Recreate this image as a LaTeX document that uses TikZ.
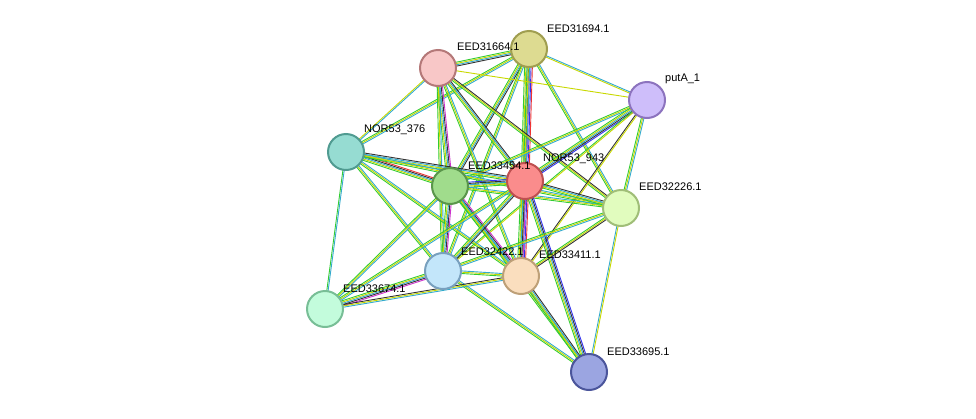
\documentclass[tikz,border=0pt]{standalone}
\usepackage{fontspec}
\setmainfont{Liberation Sans}
\usetikzlibrary{calc}
\definecolor{kg}{HTML}{33CC33}
\definecolor{ky}{HTML}{C8D800}
\definecolor{kc}{HTML}{33AACC}
\definecolor{kd}{HTML}{333333}
\definecolor{km}{HTML}{CC33CC}
\definecolor{kb}{HTML}{3333EE}
\definecolor{kr}{HTML}{EE3333}
\newcommand\lnk[3]{\foreach \c [count=\i] in {#3}{%
  \pgfmathsetmacro\o{(\i-1)*1.3-0.65*(\n-1)}%
  \draw[draw=\c,line width=0.9pt] ($(#1)!\o pt!90:(#2)$) -- ($(#2)!\o pt!-90:(#1)$);}}
\newcommand\E[3]{\pgfmathsetmacro\n{#3}\lnk{#1}{#2}}
\tikzset{prot/.style={circle,minimum size=36pt,line width=2pt,inner sep=0pt},
 lab/.style={anchor=south west,font=\fontsize{11}{11}\selectfont,inner sep=0pt}}
\begin{document}
\begin{tikzpicture}[x=1pt,y=-1pt]
\useasboundingbox (0,0) rectangle (976,418);
\coordinate (A) at (529,49);
\coordinate (B) at (438,68);
\coordinate (P) at (647,100);
\coordinate (N) at (346,152);
\coordinate (G) at (450,186);
\coordinate (R) at (525,181);
\coordinate (Y) at (621,208);
\coordinate (L) at (443,271);
\coordinate (O) at (521,276);
\coordinate (M) at (325,309);
\coordinate (V) at (589,372);
% edges
\E{A}{B}{4}{kg,ky,kc,kd}
\E{A}{P}{2}{ky,kc}
\E{A}{N}{3}{kg,ky,kc}
\E{A}{G}{4}{kg,ky,kc,kd}
\E{A}{R}{7}{kg,ky,kc,kd,km,kb,kr}
\E{A}{Y}{3}{kg,ky,kc}
\E{A}{L}{3}{kg,ky,kc}
\E{A}{O}{3}{kg,ky,kc}
\E{B}{P}{1}{ky}
\E{B}{N}{2}{ky,kc}
\E{B}{G}{5}{kg,ky,kc,kd,km}
\E{B}{R}{4}{kg,ky,kc,kd}
\E{B}{Y}{3}{kg,ky,kd}
\E{B}{L}{3}{kg,ky,kc}
\E{B}{O}{3}{kg,ky,kc}
\E{P}{G}{3}{kg,ky,kc}
\E{P}{R}{5}{kg,ky,kc,kd,kb}
\E{P}{Y}{3}{kg,ky,kc}
\E{P}{L}{2}{kg,ky}
\E{P}{O}{2}{kd,ky}
\E{N}{G}{5}{kg,ky,kc,kd,kr}
\E{N}{R}{4}{kg,ky,kc,kd}
\E{N}{Y}{3}{kg,ky,kc}
\E{N}{L}{3}{kg,ky,kc}
\E{N}{O}{3}{kg,ky,kc}
\E{N}{M}{2}{kg,kc}
\E{G}{R}{5}{kg,ky,kc,kd,kb}
\E{G}{Y}{3}{kg,ky,kc}
\E{G}{L}{5}{kg,ky,kc,kd,km}
\E{G}{O}{5}{kg,ky,kc,kd,km}
\E{G}{M}{3}{kg,ky,kc}
\E{G}{V}{3}{kg,ky,kc}
\E{R}{Y}{4}{kg,ky,kc,kd}
\E{R}{L}{4}{kg,ky,kc,kd}
\E{R}{O}{7}{kg,ky,kc,kd,km,kb,kr}
\E{R}{M}{3}{kg,ky,kc}
\E{R}{V}{5}{kg,ky,kc,kd,kb}
\E{Y}{L}{3}{kg,ky,kc}
\E{Y}{O}{3}{kg,ky,kd}
\E{Y}{V}{2}{kc,ky}
\E{L}{O}{3}{kg,ky,kc}
\E{L}{M}{5}{kg,ky,kc,kd,km}
\E{L}{V}{3}{kg,ky,kc}
\E{O}{M}{3}{kd,ky,kc}
\E{O}{V}{4}{kg,ky,kc,kd}
% nodes
\node[prot,fill={rgb,255:red,221;green,219;blue,145},draw={rgb,255:red,160;green,158;blue,80}] (a) at (A) {};
\node[prot,fill={rgb,255:red,248;green,199;blue,199},draw={rgb,255:red,180;green,120;blue,120}] (b) at (B) {};
\node[prot,fill={rgb,255:red,206;green,190;blue,250},draw={rgb,255:red,140;green,115;blue,190}] (p) at (P) {};
\node[prot,fill={rgb,255:red,150;green,220;blue,210},draw={rgb,255:red,80;green,155;blue,145}] (n) at (N) {};
\node[prot,fill={rgb,255:red,160;green,220;blue,140},draw={rgb,255:red,90;green,150;blue,75}] (g) at (G) {};
\node[prot,fill={rgb,255:red,250;green,140;blue,140},draw={rgb,255:red,190;green,80;blue,80}] (r) at (R) {};
\node[prot,fill={rgb,255:red,225;green,252;blue,190},draw={rgb,255:red,160;green,190;blue,120}] (y) at (Y) {};
\node[prot,fill={rgb,255:red,195;green,230;blue,250},draw={rgb,255:red,120;green,160;blue,190}] (l) at (L) {};
\node[prot,fill={rgb,255:red,250;green,222;blue,190},draw={rgb,255:red,190;green,160;blue,120}] (o) at (O) {};
\node[prot,fill={rgb,255:red,195;green,252;blue,220},draw={rgb,255:red,120;green,190;blue,150}] (m) at (M) {};
\node[prot,fill={rgb,255:red,155;green,165;blue,225},draw={rgb,255:red,75;green,85;blue,155}] (v) at (V) {};
% labels
\node[lab] (ta) at (547,33) {EED31694.1};
\node[lab] (tb) at (457,51) {EED31664.1};
\node[lab] (tp) at (665,84) {putA\_1};
\node[lab] (tn) at (364,135) {NOR53\_376};
\node[lab] (tg) at (468,170) {EED33454.1};
\node[lab] (tr) at (543,164) {NOR53\_943};
\node[lab] (ty) at (639,191) {EED32226.1};
\node[lab] (tl) at (461,256) {EED32422.1};
\node[lab] (to) at (539,259) {EED33411.1};
\node[lab] (tm) at (343,293) {EED33674.1};
\node[lab] (tv) at (607,356) {EED33695.1};
\end{tikzpicture}
\end{document}
